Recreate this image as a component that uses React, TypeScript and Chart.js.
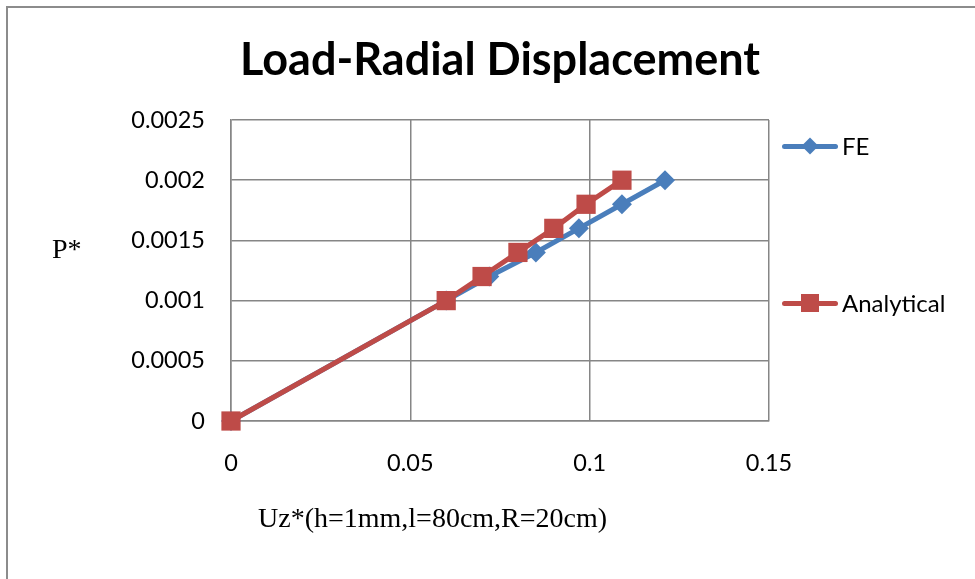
import React, { useEffect, useRef } from "react";
import { Chart, registerables } from "chart.js";

Chart.register(...registerables);

const chartTitle = "Load-Radial Displacement";
const xAxisTitle = "Uz*(h=1mm,l=80cm,R=20cm)";
const yAxisTitle = "P*";
const seriesNames = ["FE", "Analytical"];

const feX = [0, 0.06, 0.072, 0.085, 0.097, 0.109, 0.121];
const feY = [0, 0.001, 0.0012, 0.0014, 0.0016, 0.0018, 0.002];
const anX = [0, 0.06, 0.07, 0.08, 0.09, 0.099, 0.109];
const anY = [0, 0.001, 0.0012, 0.0014, 0.0016, 0.0018, 0.002];

const xTickLabels = ["0", "0.05", "0.1", "0.15"];
const yTickLabels = ["0", "0.0005", "0.001", "0.0015", "0.002", "0.0025"];

const BLUE = "#4a7ebb";
const RED = "#be4b48";
const GRID = "#868686";
const SANS = "Lato, 'Open Sans', sans-serif";
const SERIF = "'Liberation Serif', 'Times New Roman', serif";

export default function App() {
  const ref = useRef<HTMLCanvasElement | null>(null);

  useEffect(() => {
    if (!ref.current) return;
    const chart = new Chart(ref.current, {
      type: "line",
      data: {
        datasets: [
          {
            label: seriesNames[0],
            data: feX.map((x, i) => ({ x, y: feY[i] })),
            borderColor: BLUE,
            backgroundColor: BLUE,
            borderWidth: 5,
            pointStyle: "rectRot",
            pointRadius: 10,
            pointBorderWidth: 0,
            clip: false,
            order: 2,
          },
          {
            label: seriesNames[1],
            data: anX.map((x, i) => ({ x, y: anY[i] })),
            borderColor: RED,
            backgroundColor: RED,
            borderWidth: 5,
            pointStyle: "rect",
            pointRadius: 13.6,
            pointBorderWidth: 0,
            clip: false,
            order: 1,
          },
        ],
      },
      options: {
        animation: false,
        responsive: false,
        layout: { padding: { left: 131, right: 206, top: 120, bottom: 98 } },
        plugins: { legend: { display: false }, tooltip: { enabled: false } },
        scales: {
          x: {
            type: "linear",
            min: 0,
            max: 0.15,
            afterFit: (s: any) => {
              s.height = 60;
            },
            ticks: {
              stepSize: 0.05,
              color: "#000",
              font: { family: SANS, size: 23.5 },
              padding: 28,
              callback: (_v: any, i: number) => xTickLabels[i],
            },
            grid: { color: GRID, lineWidth: 1.5, drawTicks: false },
            border: { color: GRID, width: 1.5 },
          },
          y: {
            type: "linear",
            min: 0,
            max: 0.0025,
            afterFit: (s: any) => {
              s.width = 100;
            },
            ticks: {
              stepSize: 0.0005,
              color: "#000",
              font: { family: SANS, size: 23.5 },
              padding: 26,
              callback: (_v: any, i: number) => yTickLabels[i],
            },
            grid: { color: GRID, lineWidth: 1.5, drawTicks: false },
            border: { color: GRID, width: 1.5 },
          },
        },
      },
    });
    return () => chart.destroy();
  }, []);

  const legendItem = (i: number, top: number) => (
    <div style={{ position: "absolute", left: 782, top: top - 20, height: 40, width: 190 }}>
      <div
        style={{
          position: "absolute",
          left: 0,
          top: 17.5,
          width: 56,
          height: 5,
          borderRadius: 2.5,
          background: i === 0 ? BLUE : RED,
        }}
      />
      {i === 0 ? (
        <div
          style={{
            position: "absolute",
            left: 28 - 6,
            top: 20 - 6,
            width: 12,
            height: 12,
            background: BLUE,
            transform: "rotate(45deg)",
          }}
        />
      ) : (
        <div
          style={{
            position: "absolute",
            left: 28 - 9,
            top: 20 - 9,
            width: 18,
            height: 18,
            background: RED,
          }}
        />
      )}
      <div
        style={{
          position: "absolute",
          left: 60,
          top: 0,
          lineHeight: "40px",
          fontFamily: SANS,
          fontSize: 24,
          color: "#000",
          whiteSpace: "nowrap",
        }}
      >
        {seriesNames[i]}
      </div>
    </div>
  );

  return (
    <div
      style={{
        position: "absolute",
        left: 0,
        top: 0,
        width: 975,
        height: 579,
        overflow: "hidden",
        background: "#fff",
      }}
    >
      <div
        style={{
          position: "absolute",
          left: 6,
          top: 6,
          width: 1000,
          height: 600,
          border: "2px solid #8c8c8c",
        }}
      />
      <canvas ref={ref} width={975} height={579} style={{ position: "absolute", left: 0, top: 0, width: 975, height: 579 }} />
      <div
        style={{
          position: "absolute",
          left: 240,
          top: 31,
          fontFamily: SANS,
          fontWeight: 700,
          fontSize: 45,
          lineHeight: "54px",
          color: "#000",
          whiteSpace: "nowrap",
        }}
      >
        {chartTitle}
      </div>
      <div
        style={{
          position: "absolute",
          left: 52,
          top: 233,
          fontFamily: SERIF,
          fontSize: 28,
          lineHeight: "32px",
          color: "#000",
        }}
      >
        {yAxisTitle}
      </div>
      <div
        style={{
          position: "absolute",
          left: 258,
          top: 502,
          fontFamily: SERIF,
          fontSize: 28,
          lineHeight: "32px",
          color: "#000",
          whiteSpace: "nowrap",
        }}
      >
        {xAxisTitle}
      </div>
      {legendItem(0, 146)}
      {legendItem(1, 303)}
    </div>
  );
}
